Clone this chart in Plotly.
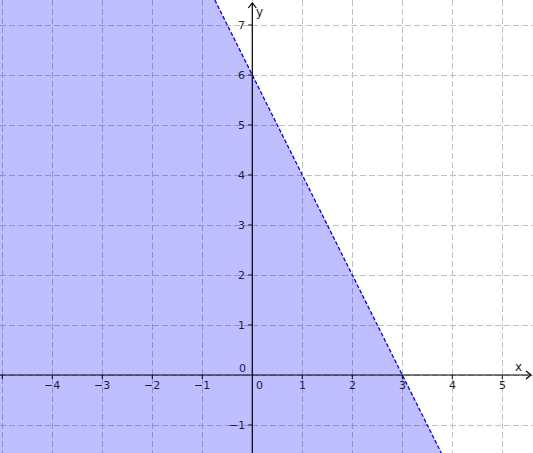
import plotly.graph_objects as go

# data
slope = -2.0
intercept = 6.0
x_range = [-5.046, 5.614]
y_range = [-1.56, 7.5]
x_ticks = [-5, -4, -3, -2, -1, 0, 1, 2, 3, 4, 5]
x_labels = ["", "−4", "−3", "−2", "−1", "0", "1", "2", "3", "4", "5"]
y_ticks = [-1, 0, 1, 2, 3, 4, 5, 6, 7]
y_labels = ["−1", "0", "1", "2", "3", "4", "5", "6", "7"]

W, H = 533, 453
px_x = W / (x_range[1] - x_range[0])
px_y = H / (y_range[1] - y_range[0])

def line_x(y):
    return (y - intercept) / slope

xt = line_x(y_range[1])
xb = line_x(y_range[0])

fig = go.Figure()
# shaded half-plane
fig.add_trace(go.Scatter(
    x=[xt, xb, x_range[0], x_range[0], xt],
    y=[y_range[1], y_range[0], y_range[0], y_range[1], y_range[1]],
    fill="toself", fillcolor="rgba(0,0,255,0.25)",
    line=dict(width=0), mode="lines", hoverinfo="skip", showlegend=False))
# boundary line
fig.add_trace(go.Scatter(
    x=[xt, xb], y=[y_range[1], y_range[0]], mode="lines",
    line=dict(color="#0000ff", width=1.3, dash="4px,2px"),
    hoverinfo="skip", showlegend=False))

font = dict(family="DejaVu Sans", size=11, color="#1c1c3c")
shapes = []
annotations = []
# axes
x_end = x_range[1] - 2 / px_x
y_end = y_range[1] - 3 / px_y
shapes.append(dict(type="line", x0=x_range[0], x1=x_end, y0=0, y1=0,
                   line=dict(color="black", width=1.2)))
shapes.append(dict(type="line", x0=0, x1=0, y0=y_range[0], y1=y_end,
                   line=dict(color="black", width=1.2)))
# arrow heads
shapes.append(dict(type="path", xref="x", yref="y",
                   path=f"M {x_end-5/px_x},{4/px_y} L {x_end},0 L {x_end-5/px_x},{-4/px_y}",
                   line=dict(color="black", width=1.2)))
shapes.append(dict(type="path", xref="x", yref="y",
                   path=f"M {-4/px_x},{y_end-5/px_y} L 0,{y_end} L {4/px_x},{y_end-5/px_y}",
                   line=dict(color="black", width=1.2)))
# tick marks
for t in x_ticks:
    if t == 0:
        continue
    shapes.append(dict(type="line", x0=t, x1=t, y0=0, y1=-4 / px_y,
                       line=dict(color="black", width=1)))
for t in y_ticks:
    if t == 0:
        continue
    shapes.append(dict(type="line", x0=-4 / px_x, x1=0, y0=t, y1=t,
                       line=dict(color="black", width=1)))
# tick labels
for t, lab in zip(x_ticks, x_labels):
    if not lab:
        continue
    annotations.append(dict(x=t, y=0, text=lab, showarrow=False, font=font,
                            xanchor="center", yanchor="middle",
                            xshift=7.5 if t == 0 else 0, yshift=-10))
for t, lab in zip(y_ticks, y_labels):
    if t == 0:
        annotations.append(dict(x=0, y=0, text=lab, showarrow=False, font=font,
                                xanchor="right", yanchor="middle", xshift=-4, yshift=7))
    else:
        annotations.append(dict(x=0, y=t, text=lab, showarrow=False, font=font,
                                xanchor="right", yanchor="middle", xshift=-5, yshift=0))
# axis names
annotations.append(dict(x=x_range[1], y=0, text="x", showarrow=False,
                        font=dict(family="DejaVu Sans", size=12, color="#1c1c3c"),
                        xanchor="center", yanchor="middle", xshift=-15, yshift=8))
annotations.append(dict(x=0, y=y_range[1], text="y", showarrow=False,
                        font=dict(family="DejaVu Sans", size=12, color="#1c1c3c"),
                        xanchor="center", yanchor="middle", xshift=7, yshift=-12))

fig.update_layout(
    width=W, height=H, margin=dict(l=0, r=0, t=0, b=0),
    plot_bgcolor="white", paper_bgcolor="white",
    xaxis=dict(range=x_range, dtick=1, tick0=0, showgrid=True, gridcolor="#c0c0c0",
               griddash="6px,3px", gridwidth=1, zeroline=False, showticklabels=False,
               ticks="", showline=False, fixedrange=True),
    yaxis=dict(range=y_range, dtick=1, tick0=0, showgrid=True, gridcolor="#c0c0c0",
               griddash="6px,3px", gridwidth=1, zeroline=False, showticklabels=False,
               ticks="", showline=False, fixedrange=True),
    shapes=shapes, annotations=annotations)

fig.write_html("out.html", config={"displayModeBar": False},
               post_script="document.body.style.margin='0';document.body.style.overflow='hidden';")
